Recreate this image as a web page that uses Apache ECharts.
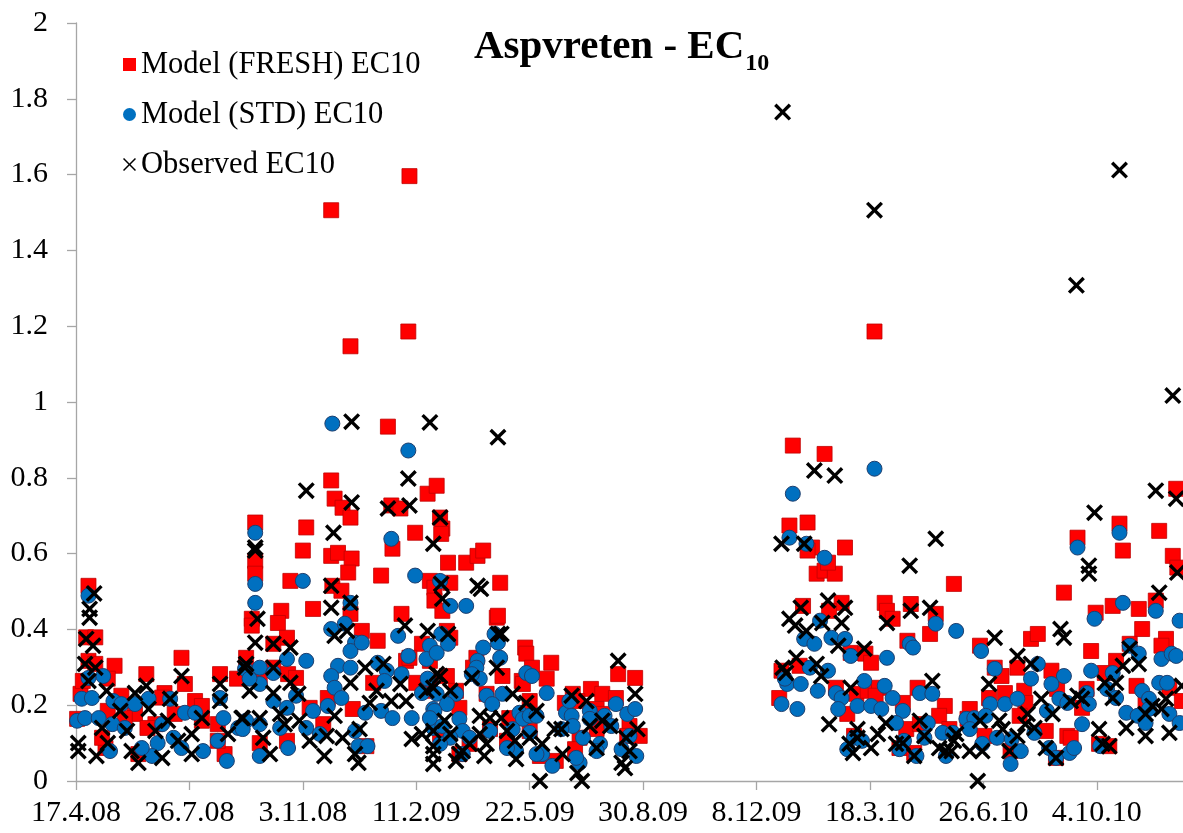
<!DOCTYPE html>
<html>
<head>
<meta charset="utf-8">
<script src="https://cdn.jsdelivr.net/npm/echarts@6/dist/echarts.min.js"></script>
<style>html,body{margin:0;padding:0;background:#fff}#c{width:1183px;height:833px}</style>
</head>
<body>
<div id="c"></div>
<script>
// x values are days since 17.4.2008
const xTickLabels = ['17.4.08','26.7.08','3.11.08','11.2.09','22.5.09','30.8.09','8.12.09','18.3.10','26.6.10','4.10.10'];
const seriesNames = ['Model (FRESH) EC10','Model (STD) EC10','Observed EC10'];

const freshEC10 = [
[11,0.515],[9,0.379],[17,0.379],[11,0.317],[34,0.304],[17,0.309],[4,0.23],[1,0.164],[6,0.264],[28,0.27],[62,0.282],[93,0.325],[96,0.256],[78,0.232],[76,0.22],[105,0.211],[111,0.198],[127,0.282],[142,0.27],[40,0.225],[28,0.185],[52,0.177],[70,0.15],[87,0.177],[26,0.087],[55,0.071],[125,0.15],[131,0.071],[125,0.106],[63,0.14],[43,0.166],[23,0.114],[111,0.159],
[225,0.793],[228,0.745],[235,0.721],[242,0.695],[203,0.669],[158,0.682],[158,0.581],[158,0.547],[200,0.608],[225,0.594],[231,0.602],[243,0.587],[240,0.55],[269,0.542],[189,0.528],[226,0.515],[234,0.502],[209,0.454],[181,0.449],[178,0.417],[155,0.428],[155,0.41],[242,0.441],[252,0.396],[266,0.37],[287,0.441],[279,0.613],[299,0.655],[310,0.758],[318,0.779],[278,0.727],[286,0.719],[312,0.528],[316,0.51],[305,0.362],[291,0.317],[186,0.378],[174,0.362],[150,0.325],[174,0.299],[187,0.282],[194,0.272],[222,0.219],[206,0.193],[244,0.19],[262,0.259],[294,0.325],[300,0.259],[218,0.15],[162,0.1],[186,0.106],[256,0.092],[162,0.272],
[225,1.506],[242,1.147],[294,1.596],[293,1.186],[275,0.935],
[321,0.695],[323,0.666],[322,0.652],[328,0.576],[344,0.576],[354,0.594],[359,0.608],[374,0.523],[330,0.523],[316,0.476],[323,0.449],[371,0.431],[372,0.436],[327,0.396],[330,0.378],[353,0.325],[350,0.299],[396,0.352],[397,0.336],[419,0.312],[402,0.299],[415,0.27],[393,0.264],[394,0.256],[376,0.277],[327,0.277],[312,0.317],[335,0.238],[338,0.193],[362,0.23],[478,0.282],[493,0.272],[454,0.243],[464,0.23],[476,0.219],[438,0.23],[431,0.206],[442,0.211],[459,0.19],[464,0.177],[488,0.145],[497,0.119],[486,0.119],[459,0.137],[444,0.114],[440,0.084],[409,0.066],[423,0.053],[380,0.106],[400,0.132],[382,0.166],[365,0.137],[347,0.098],[321,0.124],[338,0.071],[312,0.238],[400,0.211],[312,0.264],
[632,0.885],[660,0.863],[629,0.674],[645,0.682],[649,0.616],[678,0.616],[645,0.608],[653,0.547],[660,0.555],[669,0.547],[663,0.576],[774,0.52],[641,0.462],[675,0.47],[664,0.449],[713,0.47],[715,0.449],[720,0.428],[736,0.467],[758,0.441],[753,0.388],[733,0.37],[683,0.338],[696,0.336],[701,0.312],[622,0.291],[638,0.304],[620,0.219],[670,0.246],[688,0.23],[698,0.238],[708,0.246],[705,0.225],[680,0.177],[729,0.206],[742,0.246],[766,0.198],[761,0.172],[732,0.137],[744,0.15],[770,0.137],[686,0.119],[726,0.087],[739,0.074],[704,1.186],
[970,0.771],[955,0.66],[967,0.594],[971,0.563],[920,0.679],[923,0.608],[883,0.642],[871,0.497],[899,0.444],[914,0.462],[937,0.454],[940,0.401],[952,0.476],[961,0.375],[957,0.357],[929,0.362],[842,0.375],[848,0.388],[895,0.343],[797,0.357],[810,0.299],[816,0.277],[830,0.299],[860,0.291],[865,0.243],[836,0.238],[819,0.232],[805,0.219],[837,0.206],[788,0.19],[786,0.164],[801,0.119],[824,0.079],[832,0.172],[855,0.132],[874,0.119],[864,0.061],[891,0.243],[887,0.193],[917,0.317],[935,0.251],[907,0.285],[964,0.246],[975,0.211],[943,0.211],[902,0.098],[911,0.092],[877,0.114]
];

const stdEC10 = [
[11,0.489],[24,0.277],[11,0.272],[5,0.217],[14,0.219],[1,0.159],[8,0.166],[20,0.166],[33,0.211],[40,0.203],[52,0.203],[64,0.217],[83,0.217],[96,0.18],[105,0.18],[127,0.219],[130,0.166],[125,0.106],[133,0.053],[112,0.079],[93,0.087],[76,0.15],[86,0.114],[72,0.1],[67,0.066],[30,0.079],[32,0.15],[43,0.14],[58,0.087],[143,0.14],[150,0.159],
[158,0.655],[158,0.52],[158,0.47],[200,0.528],[278,0.639],[299,0.542],[242,0.47],[225,0.401],[237,0.415],[246,0.365],[242,0.343],[252,0.365],[284,0.383],[203,0.317],[186,0.322],[162,0.299],[174,0.285],[231,0.304],[242,0.299],[225,0.277],[228,0.246],[234,0.219],[266,0.312],[274,0.291],[272,0.264],[287,0.282],[293,0.33],[312,0.357],[309,0.322],[318,0.338],[310,0.27],[305,0.232],[149,0.296],[162,0.256],[153,0.27],[174,0.211],[186,0.193],[194,0.225],[209,0.185],[222,0.198],[255,0.18],[269,0.185],[279,0.166],[296,0.166],[315,0.19],[315,0.14],[147,0.137],[162,0.15],[180,0.14],[162,0.066],[187,0.087],[203,0.14],[215,0.124],[246,0.132],[249,0.092],[257,0.092],
[226,0.943],[293,0.872],
[321,0.528],[330,0.462],[344,0.462],[369,0.388],[372,0.365],[322,0.388],[328,0.362],[359,0.352],[374,0.325],[354,0.317],[353,0.299],[356,0.27],[349,0.282],[397,0.285],[402,0.277],[415,0.232],[376,0.23],[362,0.225],[367,0.203],[335,0.23],[318,0.23],[327,0.203],[316,0.185],[312,0.166],[338,0.164],[323,0.145],[365,0.132],[341,0.132],[391,0.18],[394,0.164],[400,0.172],[406,0.172],[385,0.137],[400,0.127],[432,0.18],[437,0.172],[435,0.211],[453,0.185],[453,0.164],[466,0.172],[472,0.145],[476,0.203],[486,0.177],[493,0.19],[438,0.145],[428,0.137],[447,0.114],[462,0.098],[459,0.079],[488,0.119],[481,0.084],[494,0.066],[444,0.048],[441,0.061],[420,0.04],[411,0.071],[388,0.079],[380,0.087],[406,0.071],[347,0.114],[330,0.114],[321,0.098],[341,0.071],
[704,0.824],[632,0.758],[629,0.642],[644,0.626],[660,0.589],[656,0.423],[642,0.375],[651,0.362],[666,0.378],[678,0.375],[683,0.33],[715,0.325],[735,0.362],[738,0.352],[758,0.415],[776,0.396],[663,0.291],[647,0.299],[627,0.256],[639,0.256],[625,0.27],[622,0.203],[636,0.19],[654,0.238],[670,0.232],[675,0.219],[672,0.19],[695,0.264],[713,0.251],[720,0.219],[689,0.198],[701,0.198],[710,0.19],[729,0.185],[744,0.232],[755,0.23],[723,0.153],[751,0.153],[764,0.127],[773,0.127],[748,0.114],[730,0.106],[726,0.084],[741,0.066],[767,0.066],[686,0.114],[680,0.084],[693,0.106],
[920,0.655],[883,0.616],[898,0.428],[952,0.449],[923,0.47],[973,0.423],[798,0.343],[929,0.357],[937,0.336],[957,0.322],[966,0.336],[970,0.33],[848,0.309],[871,0.277],[810,0.296],[842,0.27],[860,0.256],[895,0.291],[914,0.285],[955,0.259],[962,0.259],[940,0.238],[946,0.217],[909,0.243],[917,0.219],[819,0.203],[830,0.217],[806,0.203],[867,0.217],[874,0.206],[891,0.232],[893,0.203],[926,0.18],[936,0.172],[946,0.19],[964,0.177],[973,0.153],[785,0.164],[792,0.166],[802,0.172],[788,0.137],[799,0.098],[812,0.114],[825,0.111],[833,0.079],[824,0.045],[845,0.127],[856,0.185],[858,0.087],[864,0.061],[876,0.074],[880,0.087],[887,0.15],[903,0.092],[943,0.153]
];

const observedEC10 = [
[16,0.495],[12,0.454],[12,0.431],[9,0.375],[15,0.357],[8,0.309],[17,0.299],[11,0.264],[27,0.238],[2,0.1],[2,0.079],[18,0.066],[52,0.232],[62,0.251],[93,0.277],[83,0.217],[64,0.19],[39,0.185],[23,0.14],[28,0.1],[45,0.132],[70,0.132],[81,0.159],[111,0.166],[102,0.124],[90,0.106],[76,0.061],[55,0.048],[49,0.079],[102,0.071],[127,0.256],[127,0.211],[134,0.124],[146,0.166],[149,0.299],
[203,0.766],[243,0.735],[293,0.798],[275,0.719],[294,0.727],[227,0.655],[158,0.616],[158,0.608],[225,0.515],[225,0.457],[242,0.47],[315,0.626],[160,0.428],[290,0.41],[310,0.396],[228,0.383],[239,0.396],[158,0.365],[174,0.362],[189,0.352],[150,0.309],[174,0.299],[255,0.299],[271,0.309],[242,0.259],[189,0.259],[153,0.238],[174,0.232],[196,0.23],[265,0.238],[259,0.206],[278,0.211],[286,0.256],[291,0.211],[309,0.238],[318,0.282],[315,0.246],[228,0.172],[147,0.166],[162,0.166],[180,0.177],[184,0.15],[197,0.159],[206,0.106],[221,0.119],[235,0.114],[250,0.137],[219,0.066],[246,0.071],[249,0.048],[165,0.114],[171,0.071],[296,0.111],[305,0.124],[315,0.071],[315,0.045],[315,0.132],
[243,0.948],[623,1.765],[704,1.506],[882,1.308],[920,1.612],
[312,0.946],[372,0.907],[321,0.695],[354,0.515],[357,0.507],[322,0.52],[323,0.481],[328,0.388],[375,0.388],[372,0.388],[371,0.299],[321,0.277],[349,0.272],[478,0.317],[493,0.23],[495,0.137],[437,0.225],[450,0.211],[397,0.206],[385,0.23],[330,0.238],[356,0.172],[365,0.166],[375,0.166],[406,0.185],[422,0.137],[428,0.137],[453,0.145],[464,0.159],[471,0.145],[485,0.114],[488,0.079],[481,0.048],[484,0.034],[442,0.021],[446,0.0],[409,0.0],[388,0.058],[400,0.114],[411,0.098],[429,0.071],[459,0.087],[387,0.106],[360,0.066],[362,0.098],[341,0.079],[338,0.071],[335,0.053],[315,0.092],[330,0.124],[325,0.159],[356,0.124],[347,0.098],[380,0.132],
[651,0.819],[669,0.806],[758,0.639],[735,0.568],[622,0.626],[642,0.626],[639,0.457],[663,0.476],[678,0.457],[715,0.417],[736,0.449],[753,0.457],[629,0.428],[634,0.41],[644,0.396],[658,0.417],[675,0.417],[672,0.357],[695,0.349],[635,0.325],[653,0.309],[623,0.299],[626,0.285],[657,0.277],[755,0.264],[683,0.246],[664,0.15],[689,0.137],[714,0.153],[707,0.124],[744,0.159],[689,0.114],[682,0.098],[685,0.074],[701,0.087],[723,0.098],[729,0.1],[748,0.119],[739,0.066],[761,0.087],[767,0.079],[774,0.106],
[967,1.017],[952,0.766],[970,0.745],[898,0.708],[893,0.568],[893,0.547],[971,0.55],[955,0.497],[868,0.401],[871,0.378],[810,0.378],[830,0.33],[842,0.309],[805,0.256],[929,0.349],[937,0.309],[923,0.304],[907,0.259],[917,0.259],[914,0.219],[961,0.217],[975,0.251],[949,0.198],[943,0.177],[957,0.19],[964,0.127],[943,0.119],[926,0.14],[902,0.137],[905,0.098],[911,0.092],[887,0.217],[883,0.225],[877,0.211],[861,0.177],[851,0.217],[839,0.177],[845,0.14],[855,0.087],[864,0.061],[837,0.15],[830,0.119],[814,0.159],[817,0.137],[823,0.079],[797,0.159],[799,0.079],[788,0.079],[776,0.124],[772,0.079],[795,0.0]
];

const X_THICK = 'path://M1.4,0L5,3.6L8.6,0L10,1.4L6.4,5L10,8.6L8.6,10L5,6.4L1.4,10L0,8.6L3.6,5L0,1.4Z';
const X_THIN = 'path://M0.8,0L5,4.2L9.2,0L10,0.8L5.8,5L10,9.2L9.2,10L5,5.8L0.8,10L0,9.2L4.2,5L0,0.8Z';
const FONT = '"Liberation Serif","Times New Roman",serif';

const chart = echarts.init(document.getElementById('c'), null, {renderer: 'canvas'});
chart.setOption({
  animation: false,
  backgroundColor: '#ffffff',
  title: {
    left: 469, top: 22,
    text: '{a|Aspvreten - EC}{b|10}',
    textStyle: {
      rich: {
        a: {fontFamily: FONT, fontSize: 41, fontWeight: 'bold', color: '#000', lineHeight: 46, verticalAlign: 'top'},
        b: {fontFamily: FONT, fontSize: 24, fontWeight: 'bold', color: '#000', lineHeight: 24, padding: [25,0,0,1], verticalAlign: 'top'}
      }
    }
  },
  legend: {
    orient: 'vertical', left: 118, top: 44, itemGap: 19,
    itemWidth: 13, itemHeight: 13,
    textStyle: {fontFamily: FONT, fontSize: 30.5, color: '#000', padding: [0,0,0,0]},
    data: [
      {name: seriesNames[0], icon: 'rect', itemStyle: {color: '#ff0000', borderWidth: 0}},
      {name: seriesNames[1], icon: 'circle', itemStyle: {color: '#0070c0', borderWidth: 0}},
      {name: seriesNames[2], icon: X_THIN, itemStyle: {color: '#000', borderWidth: 0}}
    ]
  },
  grid: {left: 76, right: 0, top: 23, bottom: 52, containLabel: false},
  xAxis: {
    type: 'value', min: 0, max: 976, interval: 100,
    axisLine: {lineStyle: {color: '#a6a6a6', width: 1.3}},
    axisTick: {show: true, length: 9, lineStyle: {color: '#a6a6a6', width: 1.3}},
    axisLabel: {
      showMaxLabel: false, margin: 17, fontFamily: FONT, fontSize: 30, color: '#000',
      formatter: v => xTickLabels[Math.round(v / 100)] || ''
    },
    splitLine: {show: false}
  },
  yAxis: {
    type: 'value', min: 0, max: 2, interval: 0.2,
    axisLine: {show: true, lineStyle: {color: '#a6a6a6', width: 1.3}},
    axisTick: {show: true, length: 9, lineStyle: {color: '#a6a6a6', width: 1.3}},
    axisLabel: {margin: 28, fontFamily: FONT, fontSize: 30, color: '#000'},
    splitLine: {show: false}
  },
  series: [
    {name: seriesNames[0], type: 'scatter', data: freshEC10, symbol: 'rect', symbolSize: 15,
     itemStyle: {color: '#ff0000', borderColor: '#c00000', borderWidth: 0.8, opacity: 1}},
    {name: seriesNames[1], type: 'scatter', data: stdEC10, symbol: 'circle', symbolSize: 15,
     itemStyle: {color: '#0070c0', borderColor: '#1f3f6e', borderWidth: 1, opacity: 1}},
    {name: seriesNames[2], type: 'scatter', data: observedEC10, symbol: X_THICK, symbolSize: 17,
     itemStyle: {color: '#000000', opacity: 1}}
  ]
});
</script>
</body>
</html>
